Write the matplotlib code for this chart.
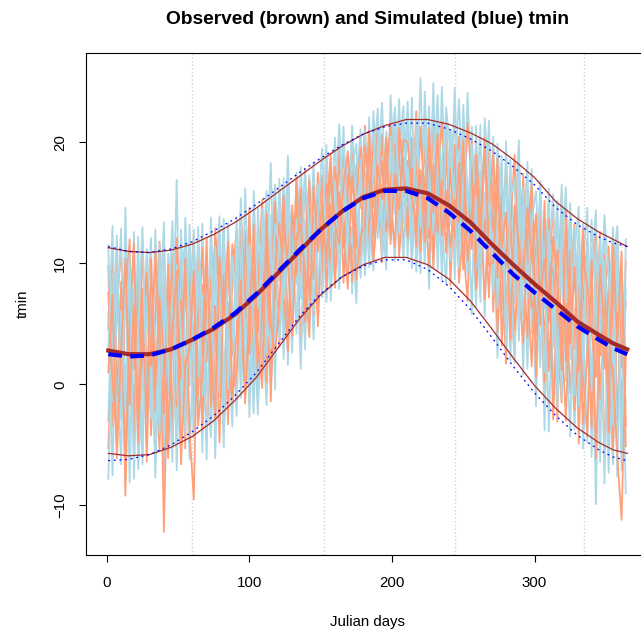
import numpy as np  # numpy para los ejes de días
import matplotlib
matplotlib.use('Agg')
import matplotlib.pyplot as plt  # matplotlib para el gráfico

plt.rcParams['font.family'] = ['Liberation Sans', 'DejaVu Sans']

# Días julianos de las series diarias (leídas cada 3 días)
dias = np.arange(1, 366, 3)

obs1 = [9.8, -3.5, 6.2, 11.4, -1.0, 4.3, -5.6, 8.7, 1.2, 10.6,
        -4.2, 5.9, 11.8, 0.4, -6.1, 7.5, 2.0, 10.9, -2.7, 6.4,
        12.4, -0.9, 8.2, -4.6, 5.7, 11.9, 1.6, -2.3, 9.8, 4.1,
        -1.2, 10.3, 4.8, 14.6, 0.9, 8.0, 15.3, 3.6, 11.4, 6.2,
        16.2, 4.1, 12.8, 7.5, 17.1, 9.9, 3.8, 14.6, 10.2, 17.5,
        8.6, 18.9, 12.0, 16.4, 9.1, 19.8, 13.7, 10.5, 18.2, 14.6,
        21.4, 11.6, 17.9, 13.2, 20.7, 10.8, 16.5, 22.0, 12.9, 18.8,
        12.1, 20.4, 15.6, 10.3, 22.3, 17.0, 11.5, 19.6, 14.4, 21.2,
        8.2, 17.6, 20.5, 11.4, 6.9, 16.1, 19.3, 9.0, 14.8, 7.2,
        16.9, 4.3, 12.2, 18.1, 7.6, 2.4, 14.3, 10.0, 3.9, 15.7,
        0.6, 12.9, -2.4, 8.1, 14.9, 3.7, -1.5, 10.4, 5.8, 13.2,
        -4.9, 7.0, 11.9, -1.8, 4.6, 12.6, -5.8, 2.9, 9.3, -3.0,
        8.4, -5.1]
obs2 = [-5.3, 3.5, 10.1, -2.0, 7.3, 12.0, -3.9, 1.8, 7.9, -6.4,
        8.3, 1.1, -5.4, 9.7, 4.2, -3.0, 12.1, 5.3, -0.8, 9.1,
        3.2, 10.6, -3.7, 6.9, 0.3, 12.9, 7.3, -4.1, 3.0, 11.6,
        7.9, 1.5, 12.7, -1.6, 9.6, 4.3, 13.2, 0.2, 8.4, 15.1,
        3.1, 11.4, 16.7, 6.2, 13.9, 2.9, 11.6, 16.9, 5.8, 12.7,
        17.3, 7.9, 14.9, 11.3, 19.4, 8.4, 16.2, 19.0, 11.2, 16.8,
        10.4, 19.3, 14.6, 21.9, 11.9, 18.6, 13.4, 19.9, 10.6, 15.7,
        18.5, 13.3, 22.6, 11.0, 16.9, 20.1, 9.6, 17.4, 21.7, 13.0,
        21.0, 10.4, 15.3, 18.7, 12.3, 20.2, 10.1, 17.6, 11.9, 19.3,
        6.0, 14.8, 9.7, 1.7, 16.2, 11.3, 5.2, 17.4, 8.1, 1.5,
        11.4, 4.9, 15.2, 1.1, 9.6, -3.1, 12.8, 7.4, -0.7, 5.0,
        10.5, 0.7, -4.3, 8.2, 12.3, -1.2, 6.5, 11.4, -5.2, 5.9,
        -2.0, 10.2]
obs3 = [4.6, 11.1, -0.9, 5.9, -6.9, 9.4, 3.0, -2.7, 11.9, 0.4,
        6.7, -2.3, 9.0, -12.2, 3.6, 10.8, -1.8, 6.9, -5.3, 11.5,
        -2.7, 5.2, 11.3, 1.9, 9.1, -1.0, 4.9, 12.5, -3.3, 8.7,
        12.8, 5.1, -0.5, 11.0, 6.7, -1.9, 10.7, 7.7, 1.8, 12.5,
        9.4, 15.6, 4.6, 10.1, 15.0, 8.0, 17.8, 7.0, 13.8, 4.8,
        12.7, 16.6, 9.5, 18.0, 14.2, 11.3, 17.4, 8.5, 15.5, 19.6,
        15.0, 12.4, 20.8, 16.3, 10.1, 17.4, 21.6, 14.6, 19.7, 11.2,
        16.4, 10.2, 18.8, 14.2, 19.9, 12.1, 22.4, 15.0, 10.6, 18.9,
        14.1, 19.8, 8.4, 13.0, 21.6, 16.8, 7.9, 12.7, 18.2, 15.4,
        12.7, 18.7, 3.2, 10.9, 13.8, 4.5, 9.0, 14.8, 12.3, 6.3,
        7.8, 14.4, 3.1, 11.6, -2.9, 6.1, 15.8, 1.9, 11.1, -2.1,
        3.8, 12.9, 5.5, -3.6, 9.5, 2.4, 10.7, -4.0, 7.2, 12.0,
        1.4, 6.8]
obs4 = [7.6, 0.1, -4.6, 8.5, -9.2, 5.4, 11.7, -1.4, 3.3, 9.2,
        1.5, 11.0, 3.9, -2.4, 9.9, -4.8, 6.6, 0.5, 10.4, -3.9,
        -9.5, 7.8, 2.3, 12.1, -1.8, 6.5, -4.8, 9.1, 1.5, -1.3,
        4.4, 14.3, 7.4, 2.5, 13.2, -0.6, 6.3, 12.1, -1.4, 9.9,
        13.3, 7.6, 2.7, 14.8, 9.1, 16.2, 5.2, 12.1, 8.7, 15.3,
        10.8, 14.1, 19.1, 8.0, 15.9, 12.5, 7.9, 17.1, 13.4, 9.6,
        19.7, 16.8, 10.2, 14.9, 18.5, 12.7, 15.1, 11.4, 21.2, 17.6,
        13.8, 17.9, 11.4, 21.3, 14.7, 9.8, 18.2, 12.6, 16.8, 10.9,
        17.9, 12.1, 18.3, 9.5, 15.9, 11.2, 19.0, 14.2, 7.0, 13.3,
        19.3, 8.8, 15.6, 5.6, 12.9, 19.0, 7.8, 3.4, 11.9, 16.6,
        4.1, 9.8, 0.2, 13.7, 6.6, 11.1, 4.3, -3.0, 8.3, 2.9,
        8.8, -3.3, 2.6, 10.3, -6.1, 6.2, 1.3, 8.4, 1.0, -5.9,
        -11.2, 2.4]
obs5 = [1.0, 7.4, -6.1, 2.8, 10.4, -1.7, 6.5, -4.8, 5.6, -2.6,
        10.4, -0.3, 7.1, 2.6, -3.7, 4.4, 9.4, -6.6, 1.6, 2.9,
        9.4, -3.4, 0.7, 9.6, 3.0, -2.9, 10.5, 5.3, 11.8, -0.8,
        1.1, 8.6, -1.6, 6.2, 11.5, 3.2, -0.3, 14.1, 4.9, 2.6,
        6.6, 13.8, 9.8, 4.0, 12.2, 13.2, 9.1, 3.9, 16.4, 11.0,
        15.0, 10.0, 17.7, 13.2, 11.6, 16.4, 19.3, 14.4, 8.7, 12.3,
        13.1, 21.0, 12.3, 18.1, 15.3, 20.4, 11.6, 17.4, 14.5, 20.2,
        20.0, 15.5, 13.2, 17.7, 11.8, 21.2, 14.2, 20.7, 12.3, 16.0,
        11.4, 15.3, 13.4, 20.2, 10.2, 14.3, 16.9, 11.6, 20.4, 9.8,
        10.1, 16.5, 11.3, 14.2, 3.7, 14.8, 11.6, 8.7, 14.6, 10.1,
        14.1, 7.3, 10.4, 5.1, 12.2, 8.5, 1.2, 14.3, 3.4, 9.7,
        1.1, 10.6, 8.1, 4.4, 0.6, 9.8, 4.0, -1.3, 11.6, 3.6,
        11.0, -3.4]

# Series simuladas (azul claro)
sim1 = [-3.0, 8.8, 2.2, -6.6, 14.6, 0.9, -4.1, 10.2, 4.5, -5.0,
        4.1, 10.1, -1.5, 7.8, -5.7, 3.1, 16.9, -2.0, 8.0, 1.9,
        7.4, -2.0, 13.3, 0.0, -4.4, 8.0, 13.9, -0.6, 6.8, 2.4,
        10.5, -1.1, 6.8, 13.8, 2.0, 11.1, 0.9, 9.3, 18.3, 3.8,
        14.5, 5.7, 11.2, 2.6, 17.5, 12.6, 6.4, 14.1, 3.7, 14.5,
        9.3, 18.3, 13.8, 8.4, 20.1, 11.6, 15.2, 20.6, 9.9, 17.2,
        17.6, 10.9, 22.6, 15.0, 12.4, 20.9, 16.1, 10.2, 19.1, 23.0,
        10.5, 19.5, 14.8, 25.3, 12.8, 17.6, 10.1, 22.8, 16.3, 20.5,
        16.4, 22.4, 10.5, 17.0, 12.8, 21.3, 8.1, 15.6, 19.6, 12.5,
        13.9, 2.2, 17.3, 9.7, 13.5, 6.8, 17.8, 13.1, 1.3, 12.7,
        -1.8, 10.9, 8.0, 16.2, -0.4, 5.6, 13.2, 0.3, 14.6, 7.7,
        12.7, 5.0, -4.8, 11.3, -9.9, 7.7, 12.8, 0.0, -6.6, 8.2,
        5.1, -9.0]
sim2 = [11.5, -1.4, 5.4, 12.9, -7.9, 6.7, 1.2, 12.2, -6.0, 8.1,
        -2.8, 12.8, 2.9, -7.2, 10.8, 6.0, -4.9, 12.8, 3.4, -6.2,
        4.4, 11.3, -5.6, 10.4, 3.4, -0.2, 12.4, -2.7, 10.5, 6.0,
        -2.6, 11.8, 3.8, 9.6, -1.0, 14.7, 5.5, -1.7, 10.9, 16.5,
        8.6, 17.1, 1.6, 13.1, 8.3, 16.4, 2.9, 17.3, 10.6, 6.8,
        16.1, 6.8, 13.2, 20.4, 10.4, 14.1, 18.8, 7.5, 16.4, 21.1,
        12.1, 22.1, 11.0, 16.9, 23.3, 13.8, 19.2, 22.5, 11.2, 16.5,
        23.4, 12.5, 17.9, 9.2, 24.2, 15.4, 21.1, 11.0, 24.6, 14.5,
        10.2, 17.3, 23.6, 14.7, 9.1, 18.4, 12.9, 21.5, 5.6, 17.4,
        17.8, 11.7, 6.1, 20.1, 8.8, 1.8, 16.0, 11.4, 18.4, 4.2,
        13.8, 1.4, 12.3, -3.9, 9.3, 15.2, -1.1, 11.7, 6.6, -3.7,
        6.0, 13.3, 1.7, 8.9, 14.4, -2.4, 4.9, -7.3, 9.8, 13.1,
        3.1, -1.6]
sim3 = [6.0, -7.5, 9.3, 3.8, 1.1, -4.9, 12.6, -7.0, 0.5, 6.4,
        12.1, -7.7, 5.3, 13.4, -0.9, 9.1, -7.1, 8.8, 11.7, -0.1,
        12.8, 0.6, 7.4, -6.2, 13.8, 2.6, 8.0, -5.2, 13.3, 3.8,
        8.9, 0.3, 16.2, 5.0, -2.4, 13.1, 8.9, 16.0, -0.1, 7.0,
        3.7, 10.0, 18.9, 6.9, 11.6, 1.3, 13.5, 9.5, 18.4, 7.9,
        11.5, 19.8, 6.9, 14.8, 21.5, 13.0, 8.9, 18.0, 19.9, 10.4,
        21.0, 14.0, 9.4, 20.3, 14.1, 9.5, 23.9, 16.7, 12.5, 21.5,
        15.4, 23.7, 9.3, 16.4, 19.5, 7.9, 17.1, 23.9, 13.3, 8.3,
        20.9, 8.7, 19.3, 11.7, 24.1, 15.2, 6.4, 17.7, 13.7, 21.8,
        9.1, 19.9, 13.3, 4.3, 18.6, 9.6, 15.1, 0.8, 16.1, 13.0,
        9.1, 15.9, -3.8, 14.1, 3.1, 13.8, 8.6, 4.9, -4.3, 12.8,
        -1.8, 9.9, 14.6, -6.0, 3.5, 12.1, -8.2, 6.5, 13.0, -7.6,
        9.6, 2.4]
sim4 = [-7.8, 4.0, 12.3, -2.9, 9.0, -8.1, 7.7, 3.9, -6.6, 11.2,
        0.8, -6.0, 11.6, -4.3, 6.6, 13.5, 0.3, -5.5, 13.8, 5.1,
        -4.4, 13.0, 4.7, 10.7, -3.4, 11.4, -1.0, 11.8, 4.2, -3.5,
        13.7, 2.9, 9.7, -2.7, 16.0, 6.3, 11.5, 2.6, 14.0, -0.4,
        17.0, 2.1, 14.9, 12.8, 4.2, 18.0, 10.9, 4.8, 12.2, 16.6,
        7.2, 13.4, 16.9, 9.5, 13.0, 21.3, 10.4, 13.0, 6.7, 18.6,
        9.0, 17.5, 21.4, 12.1, 18.8, 11.0, 20.5, 14.1, 23.6, 13.4,
        22.0, 11.3, 20.9, 13.1, 21.6, 12.9, 24.9, 9.4, 18.4, 22.4,
        13.2, 24.5, 11.9, 21.9, 16.2, 5.8, 21.4, 10.0, 15.8, 11.2,
        20.5, 6.3, 14.0, 16.4, 2.0, 12.4, 20.2, 5.6, 10.5, 17.8,
        5.2, 16.8, 6.2, 10.2, 15.7, -2.0, 10.9, 16.3, 2.1, 10.8,
        14.7, -5.3, 3.4, 13.6, 7.0, -6.4, 10.3, 4.1, -3.4, 11.4,
        -7.1, 8.0]
sim5 = [2.7, 13.1, -5.4, 6.1, -2.2, 10.8, -7.8, 5.0, 13.0, -1.9,
        8.5, 3.2, -4.0, 10.7, 1.6, -6.4, 9.9, 4.3, -4.1, 13.2,
        0.1, 9.4, -0.9, 3.8, 12.1, -6.1, 5.8, 13.7, -0.4, 10.6,
        5.4, 15.4, -0.2, 11.6, 4.7, -2.5, 14.5, 5.7, 3.0, 13.3,
        11.5, 7.1, 16.6, 4.6, 13.7, 7.1, 17.5, 12.6, 6.0, 13.8,
        19.5, 11.0, 8.6, 16.8, 7.9, 17.4, 11.5, 21.4, 14.8, 8.8,
        16.2, 9.7, 18.4, 22.8, 10.5, 16.0, 12.3, 22.9, 15.8, 10.4,
        18.0, 9.6, 21.9, 16.6, 10.0, 23.0, 12.4, 19.3, 8.7, 22.9,
        19.1, 14.5, 9.6, 23.1, 13.9, 19.8, 14.6, 6.8, 22.0, 16.4,
        7.5, 13.6, 18.9, 2.9, 15.4, 17.0, 3.6, 16.3, 7.1, 13.5,
        16.0, 9.0, 1.0, 12.8, 7.7, 0.6, 16.5, 6.8, 15.0, -0.9,
        10.7, 1.9, 12.1, -0.5, 11.8, 3.5, 14.0, 9.0, 1.7, 12.9,
        -5.8, 12.0]

# Curvas suavizadas: media y envolventes (observado / simulado)
dias_curva = [1, 15, 30, 45, 60, 75, 90, 105, 120, 135, 150, 165, 180,
              195, 210, 225, 240, 255, 270, 285, 300, 315, 330, 345, 355, 365]
media_obs = [2.8, 2.5, 2.5, 2.9, 3.7, 4.6, 5.8, 7.4, 9.2, 11.0, 12.8, 14.3, 15.5,
             16.1, 16.2, 15.8, 14.8, 13.4, 11.6, 9.9, 8.3, 6.8, 5.2, 4.1, 3.4, 2.9]
media_sim = [2.5, 2.3, 2.4, 2.9, 3.7, 4.7, 5.9, 7.5, 9.3, 11.1, 12.8, 14.3, 15.4,
             16.0, 16.0, 15.4, 14.2, 12.7, 10.9, 9.1, 7.6, 6.2, 4.8, 3.7, 3.0, 2.5]
sup_obs = [11.3, 11.0, 10.9, 11.1, 11.6, 12.4, 13.4, 14.6, 15.9, 17.2, 18.5, 19.7, 20.7,
           21.4, 21.9, 21.9, 21.5, 20.8, 19.9, 18.6, 17.1, 15.1, 13.7, 12.6, 12.0, 11.4]
sup_sim = [11.4, 11.0, 10.9, 11.2, 11.8, 12.7, 13.7, 14.9, 16.2, 17.5, 18.7, 19.8, 20.7,
           21.3, 21.6, 21.6, 21.1, 20.3, 19.3, 18.0, 16.5, 14.6, 13.2, 12.2, 11.7, 11.4]
inf_obs = [-5.7, -5.9, -5.8, -5.2, -4.3, -3.0, -1.3, 0.6, 3.0, 5.4, 7.4, 8.9, 9.9,
           10.5, 10.5, 9.9, 8.7, 6.9, 4.6, 2.2, -0.1, -2.0, -3.6, -4.8, -5.4, -5.7]
inf_sim = [-6.3, -6.2, -5.8, -5.0, -3.9, -2.6, -0.9, 1.0, 3.3, 5.6, 7.5, 8.9, 9.8,
           10.3, 10.3, 9.5, 8.1, 6.2, 3.9, 1.5, -0.7, -2.6, -4.2, -5.4, -6.0, -6.3]

# Límites de estaciones (líneas punteadas verticales)
estaciones = [60, 152, 244, 335]

fig = plt.figure(figsize=(6.41, 6.36), dpi=100)
ax = fig.add_axes([0.1342, 0.1274, 0.8768, 0.7893])

for d in estaciones:
    ax.axvline(d, color='#d3d3d3', lw=1, ls=':', zorder=1)

# Series diarias, alternando observado y simulado
for o, s in zip([obs1, obs2, obs3, obs4, obs5], [sim1, sim2, sim3, sim4, sim5]):
    ax.plot(dias, s, color='#add8e6', lw=1.3, zorder=2)
    ax.plot(dias, o, color='#ffa07a', lw=1.3, zorder=2)

# Envolventes
ax.plot(dias_curva, sup_obs, color='#a52a2a', lw=0.9, zorder=3)
ax.plot(dias_curva, inf_obs, color='#a52a2a', lw=0.9, zorder=3)
ax.plot(dias_curva, sup_sim, color='blue', lw=0.9, ls=(0, (1.5, 3)), zorder=4)
ax.plot(dias_curva, inf_sim, color='blue', lw=0.9, ls=(0, (1.5, 3)), zorder=4)

# Medias
ax.plot(dias_curva, media_obs, color='#a52a2a', lw=3, zorder=5)
ax.plot(dias_curva, media_sim, color='blue', lw=3, ls=(0, (3.3, 2.0)), zorder=6)

ax.set_xlim(-14.6, 379.6)
ax.set_ylim(-14.1, 27.4)
ax.set_xticks([0, 100, 200, 300])
ax.set_yticks([-10, 0, 10, 20])
ax.tick_params(length=5, width=0.8, labelsize=10.8, direction='out')
ax.tick_params(axis='x', pad=10)
ax.tick_params(axis='y', pad=8.5)
for lab in ax.get_yticklabels():
    lab.set_rotation(90)
    lab.set_va('center')
for sp in ax.spines.values():
    sp.set_linewidth(0.8)

ax.text(0.5, 1.066, 'Observed (brown) and Simulated (blue) tmin', transform=ax.transAxes,
        ha='center', va='center', fontsize=13.8, fontweight='bold')
ax.text(0.5, -0.133, 'Julian days', transform=ax.transAxes, ha='center', va='center', fontsize=10.8)
ax.text(-0.113, 0.5, 'tmin', transform=ax.transAxes, ha='center', va='center',
        rotation=90, fontsize=10.8)

fig.savefig('out.png', dpi=100)
